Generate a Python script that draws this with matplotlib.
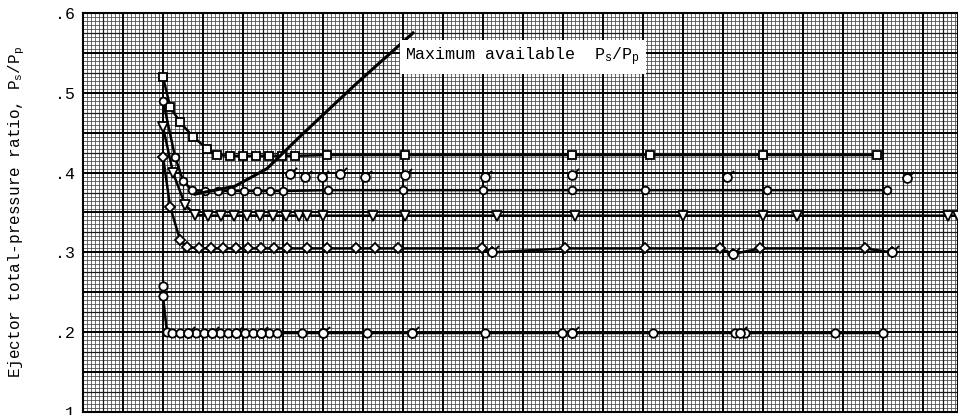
import matplotlib
matplotlib.use("Agg")
import matplotlib.pyplot as plt
from matplotlib.path import Path
import numpy as np

plt.rcParams['font.family'] = ['Liberation Mono', 'DejaVu Sans Mono']
plt.rcParams['mathtext.fontset'] = 'custom'
plt.rcParams['mathtext.rm'] = 'Liberation Mono'
plt.rcParams['mathtext.it'] = 'Liberation Mono'

# x is in graph-paper divisions (no scale printed on the chart)
xa = [2.0, 2.18, 2.43, 2.75, 3.1, 3.35, 3.68, 4.0, 4.32, 4.65, 4.98, 5.3, 6.1, 8.05, 12.22, 14.18, 17.0, 19.85]
ya = [.52, .482, .463, .445, .43, .422, .421, .421, .421, .421, .421, .421, .422, .422, .422, .422, .422, .422]

xb = [2.0, 2.3, 2.5, 2.72, 3.05, 3.38, 3.7, 4.02, 4.35, 4.68, 5.0, 6.12, 8.0, 10.0, 12.22, 14.05, 17.1, 20.1]
yb = [.49, .42, .39, .378, .377, .377, .377, .377, .377, .377, .377, .378, .378, .378, .378, .378, .378, .378]

xc = [2.0, 2.25, 2.55, 2.8, 3.12, 3.45, 3.78, 4.1, 4.42, 4.75, 5.08, 5.4, 5.6, 6.0, 7.25, 8.05,
      10.35, 12.3, 15.0, 17.0, 17.85, 21.62, 21.875]
yc = [.457, .40, .36, .347, .346, .346, .346, .346, .346, .346, .346, .346, .346, .346, .346, .346,
      .346, .346, .346, .346, .346, .346, .346]

xd = [2.0, 2.18, 2.43, 2.6, 2.9, 3.2, 3.5, 3.82, 4.12, 4.45, 4.78, 5.1, 5.6, 6.1, 6.83, 7.3,
      7.88, 9.98, 10.22, 12.05, 14.05, 15.93, 16.25, 16.93, 19.55, 20.22]
yd = [.42, .357, .315, .307, .305, .305, .305, .305, .305, .305, .305, .305, .305, .305, .305, .305,
      .305, .305, .300, .305, .305, .305, .298, .305, .305, .300]

xe = [2.0, 2.0, 2.1, 2.23, 2.43, 2.63, 2.83, 3.03, 3.23, 3.43, 3.63, 3.83, 4.05, 4.25, 4.45, 4.65,
      4.85, 5.48, 6.0, 7.1, 8.22, 10.05, 11.97, 12.23, 14.25, 16.3, 16.55, 18.8, 20.0]
ye = [.258, .245, .20, .199, .199, .199, .199, .199, .199, .199, .199, .199, .199, .199, .199, .199,
      .199, .199, .199, .199, .199, .199, .199, .199, .199, .199, .199, .199, .199]

# flagged (tailed) symbols
flag_x = [5.18, 5.55, 5.98, 6.42, 7.05, 8.05, 10.05, 12.22, 16.1, 20.6,
          2.63, 3.23, 3.83, 4.45, 6.0, 8.22, 12.23, 16.42, 10.22, 16.25, 20.22]
flag_y = [.398, .395, .395, .398, .395, .397, .395, .397, .395, .393,
          .199, .199, .199, .199, .199, .199, .199, .199, .300, .298, .300]

max_x = [2.8, 3.8, 4.6, 5.42, 6.8, 8.25]
max_y = [.373, .383, .405, .445, .51, .575]

fig = plt.figure(figsize=(9.58, 4.15), dpi=100)
ax = fig.add_axes([83 / 958, 3 / 415, 1 - 83 / 958, 399 / 415])
ax.set_xlim(0, 21.875)
ax.set_ylim(0.1, 0.6)

# graph paper
xm = np.arange(0, 22, 0.1)
ym = np.arange(0.1, 0.6001, 0.005)
ax.vlines(xm, 0.1, 0.6, color='0.28', lw=0.55, zorder=0)
ax.hlines(ym, 0, 21.875, color='0.28', lw=0.55, zorder=0)
ax.vlines(np.arange(0.5, 22, 1), 0.1, 0.6, color='0.1', lw=0.9, zorder=0)
ax.hlines(np.arange(0.125, 0.6, 0.05), 0, 21.875, color='0.1', lw=0.9, zorder=0)
ax.vlines(np.arange(0, 22, 1), 0.1, 0.6, color='black', lw=1.4, zorder=0)
ax.hlines(np.arange(0.1, 0.6001, 0.05), 0, 21.875, color='black', lw=1.4, zorder=0)

mk = dict(color='black', lw=1.8, mfc='white', mec='black', mew=1.3, zorder=3)
ax.plot(xa, ya, marker='s', ms=5.5, **mk)
ax.plot(xb, yb, marker='o', ms=5.5, **mk)
ax.plot(xc, yc, marker='v', ms=6.5, **mk)
ax.plot(xd, yd, marker='D', ms=5.5, **mk)
ax.plot(xe, ye, marker='o', ms=6, **mk)

flag = Path.make_compound_path(Path.unit_circle(), Path([(0.7, 0.7), (1.5, 1.5)]))
ax.plot(flag_x, flag_y, ls='none', marker=flag, ms=9.5, mfc='white', mec='black', mew=1.3, zorder=4)

ax.plot(max_x, max_y, color='black', lw=2.2, zorder=3)

ax.text(8.05, 0.545, r'Maximum available  $P_s/P_p$', fontsize=12, va='center', ha='left',
        zorder=5, bbox=dict(facecolor='white', edgecolor='none', pad=4))

ax.set_yticks([0.1, 0.2, 0.3, 0.4, 0.5, 0.6])
ax.set_yticklabels(['.1', '.2', '.3', '.4', '.5', '.6'], fontsize=12)
ax.tick_params(axis='y', length=0, pad=6)
ax.set_xticks([])
ax.set_ylabel(r'Ejector total-pressure ratio, $P_s/P_p$', fontsize=11.5, labelpad=20)
for s in ax.spines.values():
    s.set_linewidth(1.5)

fig.savefig('out.png', dpi=100)
